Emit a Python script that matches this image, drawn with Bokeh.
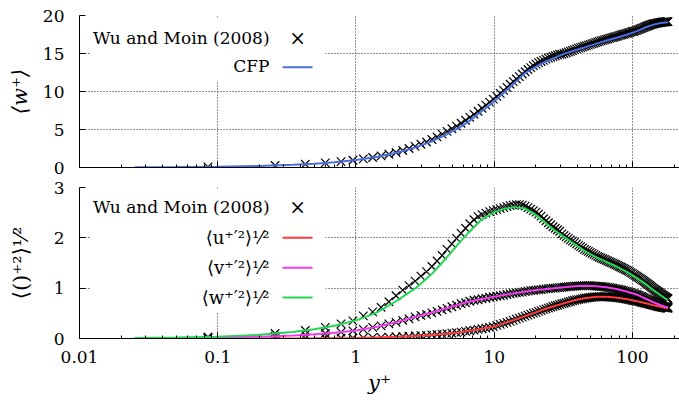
from bokeh.plotting import figure
from bokeh.layouts import column
from bokeh.models import FixedTicker, CustomJSTickFormatter, Label, BoxAnnotation, Range1d
from bokeh.embed import file_html
from bokeh.resources import INLINE

FONT = "DejaVu Serif"

# ---------------- data: Wu and Moin (2008) DNS points ----------------
dns_y = [0.085, 0.26, 0.43, 0.60, 0.78, 0.95,
         1.13, 1.32, 1.52, 1.73, 1.95, 2.18, 2.42, 2.68, 2.95, 3.24, 3.54, 3.86, 4.20, 4.56, 4.94, 5.34, 5.76,
         6.20, 6.66, 7.14, 7.64, 8.16, 8.70, 9.26, 9.84,
         10.44, 11.06, 11.70, 12.36, 13.04, 13.74, 14.46, 15.20, 15.96, 16.74, 17.54, 18.36, 19.20, 20.06,
         20.94, 21.84, 22.76, 23.70, 24.66, 25.64, 26.64, 27.66, 28.70, 29.76,
         30.86, 32.00, 33.16, 34.36, 35.58, 36.84, 38.12, 39.44, 40.78, 42.16, 43.56, 45.00, 46.46, 47.96,
         49.48, 51.04, 52.62, 54.24, 55.88, 57.56, 59.26, 61.00, 62.76, 64.56, 66.38, 68.24, 70.12, 72.04,
         73.98, 75.96, 77.96, 80.00, 82.06, 84.16, 86.28, 88.44, 90.62, 92.84, 95.08, 97.36, 99.66,
         102.0, 104.4, 106.8, 109.2, 111.6, 114.0, 116.4, 118.8, 121.2, 123.6, 126.0, 128.4, 130.8, 133.2,
         135.6, 138.0, 140.4, 142.8, 145.2, 147.6, 150.0, 152.4, 154.8, 157.2, 159.6, 162.0, 164.4, 166.8,
         169.2, 171.6, 174.0, 176.4, 178.8, 181.0]

dns_w_mean = [0.085, 0.26, 0.43, 0.60, 0.78, 0.95,
              1.13, 1.32, 1.52, 1.74, 1.97, 2.24, 2.50, 2.78, 3.06, 3.36, 3.68, 4.02, 4.40, 4.75, 5.10, 5.45,
              5.82, 6.22, 6.60, 7.00, 7.40, 7.80, 8.20, 8.60, 9.00,
              9.35, 9.75, 10.15, 10.55, 10.95, 11.30, 11.65, 11.95, 12.30, 12.60, 12.90, 13.15, 13.40, 13.60,
              13.80, 13.95, 14.10, 14.25, 14.40, 14.50, 14.60, 14.70, 14.80, 14.90,
              14.90, 15.00, 15.10, 15.20, 15.30, 15.40, 15.50, 15.60, 15.70, 15.78, 15.86, 15.95, 16.03, 16.11,
              16.19, 16.27, 16.35, 16.43, 16.51, 16.59, 16.67, 16.73, 16.79, 16.85, 16.91, 16.98, 17.05, 17.11,
              17.17, 17.23, 17.29, 17.35, 17.41, 17.47, 17.53, 17.59, 17.65, 17.70, 17.75, 17.82, 17.89,
              17.90, 17.97, 18.04, 18.10, 18.17, 18.24, 18.30, 18.37, 18.43, 18.50, 18.56, 18.62, 18.68, 18.74,
              18.80, 18.84, 18.88, 18.91, 18.94, 18.97, 19.00, 19.02, 19.04, 19.06, 19.08, 19.10, 19.12, 19.14,
              19.15, 19.16, 19.17, 19.18, 19.19, 19.20]

dns_u_rms = [0.0, 0.001, 0.003, 0.005, 0.008, 0.011,
             0.014, 0.018, 0.023, 0.028, 0.034, 0.039, 0.044, 0.050, 0.056, 0.063, 0.071, 0.079, 0.088, 0.097,
             0.106, 0.116, 0.128, 0.141, 0.154, 0.167, 0.180, 0.194, 0.207, 0.221, 0.236,
             0.26, 0.28, 0.30, 0.32, 0.34, 0.36, 0.385, 0.405, 0.425, 0.445, 0.465, 0.485, 0.505, 0.52,
             0.54, 0.555, 0.575, 0.59, 0.605, 0.62, 0.635, 0.65, 0.66, 0.675,
             0.69, 0.70, 0.71, 0.725, 0.735, 0.75, 0.76, 0.767, 0.774, 0.782, 0.79, 0.80, 0.805, 0.81,
             0.815, 0.82, 0.825, 0.828, 0.83, 0.83, 0.83, 0.83, 0.83, 0.83, 0.828, 0.825, 0.822, 0.819,
             0.816, 0.813, 0.81, 0.806, 0.802, 0.797, 0.793, 0.789, 0.785, 0.778, 0.772, 0.766, 0.76,
             0.755, 0.749, 0.743, 0.737, 0.731, 0.726, 0.72, 0.715, 0.709, 0.703, 0.698, 0.692, 0.687, 0.681,
             0.676, 0.67, 0.665, 0.659, 0.654, 0.649, 0.644, 0.639, 0.635, 0.63, 0.627, 0.623, 0.62, 0.617,
             0.614, 0.611, 0.608, 0.605, 0.602, 0.60]

dns_v_rms = [0.015, 0.046, 0.073, 0.10, 0.128, 0.152,
             0.18, 0.22, 0.25, 0.29, 0.32, 0.36, 0.39, 0.43, 0.46, 0.48, 0.51, 0.54, 0.57, 0.60,
             0.63, 0.66, 0.69, 0.71, 0.74, 0.76, 0.77, 0.79, 0.80, 0.82, 0.83,
             0.84, 0.85, 0.86, 0.875, 0.885, 0.895, 0.905, 0.915, 0.92, 0.93, 0.94, 0.95, 0.955, 0.96,
             0.965, 0.97, 0.98, 0.985, 0.99, 0.995, 1.0, 1.0, 1.01, 1.01,
             1.015, 1.02, 1.025, 1.03, 1.033, 1.037, 1.04, 1.042, 1.045, 1.047, 1.049, 1.05, 1.05, 1.05,
             1.048, 1.046, 1.044, 1.042, 1.04, 1.036, 1.033, 1.03, 1.025, 1.02, 1.016, 1.01, 1.005, 0.998,
             0.992, 0.986, 0.98, 0.973, 0.966, 0.958, 0.95, 0.942, 0.935, 0.927, 0.917, 0.907, 0.897,
             0.892, 0.883, 0.874, 0.865, 0.853, 0.842, 0.83, 0.819, 0.807, 0.796, 0.786, 0.776, 0.766, 0.756,
             0.746, 0.736, 0.726, 0.717, 0.708, 0.70, 0.692, 0.684, 0.676, 0.668, 0.661, 0.655, 0.648, 0.642,
             0.637, 0.632, 0.628, 0.625, 0.622, 0.62]

dns_w_rms = [0.03, 0.10, 0.16, 0.22, 0.29, 0.35,
             0.45, 0.53, 0.62, 0.73, 0.85, 0.96, 1.05, 1.14, 1.24, 1.33, 1.43, 1.54, 1.65, 1.77,
             1.88, 1.99, 2.09, 2.19, 2.28, 2.36, 2.42, 2.46, 2.49, 2.52, 2.54,
             2.56, 2.58, 2.60, 2.62, 2.64, 2.65, 2.66, 2.66, 2.65, 2.63, 2.60, 2.57, 2.54, 2.51,
             2.47, 2.43, 2.38, 2.34, 2.30, 2.26, 2.22, 2.19, 2.16, 2.13,
             2.08, 2.05, 2.02, 1.99, 1.96, 1.935, 1.91, 1.88, 1.85, 1.825, 1.80, 1.77, 1.75, 1.73,
             1.71, 1.69, 1.67, 1.65, 1.63, 1.615, 1.60, 1.585, 1.57, 1.555, 1.54, 1.525, 1.51, 1.495,
             1.48, 1.465, 1.45, 1.435, 1.42, 1.405, 1.39, 1.375, 1.36, 1.345, 1.33, 1.31, 1.295,
             1.275, 1.257, 1.24, 1.222, 1.205, 1.188, 1.17, 1.154, 1.137, 1.12, 1.103, 1.086, 1.07, 1.053,
             1.035, 1.018, 1.001, 0.985, 0.972, 0.958, 0.945, 0.932, 0.919, 0.906, 0.892, 0.88, 0.868, 0.856,
             0.844, 0.832, 0.82, 0.81, 0.80, 0.79]

# ---------------- data: CFP curves ----------------
cfp_y = [0.025, 0.05, 0.1, 0.2, 0.35, 0.5, 0.7, 1.0, 1.4, 2.0, 2.7, 3.5, 4.5, 5.5, 6.5, 8.0, 10.0, 12.0,
         14.0, 16.5, 19.5, 23.0, 27.0, 32.0, 38.0, 45.0, 55.0, 65.0, 78.0, 92.0, 108.0, 125.0, 142.0,
         160.0, 172.0, 181.0]
cfp_w_mean = [0.025, 0.05, 0.1, 0.2, 0.35, 0.5, 0.7, 1.0, 1.39, 1.98, 2.65, 3.41, 4.33, 5.18, 6.0, 7.3, 8.7,
              10.0, 11.1, 12.35, 13.15, 13.85, 14.4, 14.95, 15.4, 15.8, 16.3, 16.7, 17.1, 17.5, 17.95, 18.45,
              18.8, 19.0, 19.07, 19.1]
cfp_u_rms = [0.0, 0.0, 0.0005, 0.001, 0.002, 0.004, 0.007, 0.012, 0.02, 0.035, 0.05, 0.07, 0.095, 0.12,
             0.15, 0.19, 0.24, 0.31, 0.37, 0.44, 0.51, 0.58, 0.64, 0.7, 0.76, 0.8, 0.83, 0.83, 0.81, 0.78,
             0.74, 0.7, 0.66, 0.63, 0.61, 0.60]
cfp_v_rms = [0.005, 0.009, 0.018, 0.036, 0.06, 0.085, 0.115, 0.16, 0.23, 0.33, 0.43, 0.51, 0.6, 0.67,
             0.73, 0.78, 0.83, 0.87, 0.9, 0.93, 0.96, 0.98, 1.0, 1.02, 1.04, 1.05, 1.04, 1.02, 0.98, 0.93,
             0.87, 0.79, 0.72, 0.66, 0.63, 0.62]
cfp_w_rms = [0.009, 0.018, 0.037, 0.074, 0.13, 0.185, 0.255, 0.36, 0.51, 0.76, 1.0, 1.27, 1.6, 1.88,
             2.1, 2.35, 2.51, 2.58, 2.61, 2.59, 2.48, 2.32, 2.16, 2.02, 1.88, 1.74, 1.61, 1.52, 1.42, 1.32,
             1.2, 1.08, 0.96, 0.86, 0.8, 0.76]

x_ticks = [0.01, 0.1, 1, 10, 100]
top_y_ticks = [0, 5, 10, 15, 20]
bot_y_ticks = [0, 1, 2, 3]

top_legend = ["Wu and Moin (2008)", "CFP"]
bot_legend = ["Wu and Moin (2008)", "⟨u⁺′²⟩¹⁄²", "⟨v⁺′²⟩¹⁄²", "⟨w⁺′²⟩¹⁄²"]

BLUE = "#4a6fe3"
RED = "#ff3b3b"
MAGENTA = "#f03cf0"
GREEN = "#22d855"

X_END = 219
x_minor = [m * 10.0 ** e for e in range(-2, 3) for m in range(2, 10)]

MARK_SIZE = 12
MARK_W = 1.2
TICK_FS = "17px"
LEG_FS = "17px"
AX_FS = "21px"


def make_fig(height, y_end, yticks, top, bottom):
    p = figure(width=679, height=height, x_axis_type="log",
               x_range=Range1d(0.01, X_END), y_range=Range1d(0, y_end),
               output_backend="svg", toolbar_location=None,
               min_border_left=79, min_border_right=0,
               min_border_top=top, min_border_bottom=bottom)
    p.outline_line_color = None
    p.xaxis.ticker = FixedTicker(ticks=x_ticks, minor_ticks=x_minor)
    p.yaxis.ticker = FixedTicker(ticks=yticks)
    for ax in (p.xaxis, p.yaxis):
        ax.axis_line_color = "black"
        ax.axis_line_width = 1
        ax.major_tick_in = 6
        ax.major_tick_out = 0
        ax.minor_tick_in = 3
        ax.minor_tick_out = 0
        ax.major_tick_line_color = "black"
        ax.minor_tick_line_color = "black"
        ax.major_label_text_font = FONT
        ax.major_label_text_font_size = TICK_FS
        ax.major_label_text_color = "black"
        ax.axis_label_text_font = FONT
        ax.axis_label_text_font_size = AX_FS
        ax.axis_label_text_color = "black"
    p.yaxis.minor_tick_line_color = None
    p.yaxis.major_label_standoff = 15
    for g in (p.xgrid, p.ygrid):
        g.grid_line_color = "#222222"
        g.grid_line_dash = "1 2"
        g.grid_line_width = 1
    return p


def legend_text(p, x, y, text, size=LEG_FS, align="right"):
    p.add_layout(Label(x=x, y=y, text=text, text_align=align, text_baseline="middle",
                       text_font=FONT, text_font_size=size, text_color="black"))


# ---------------- top panel ----------------
p1 = make_fig(177, 20, top_y_ticks, 15, 10)
p1.xaxis.formatter = CustomJSTickFormatter(code="return '';")
p1.xaxis.major_label_text_font_size = "0px"
p1.xaxis.major_label_standoff = 0
p1.yaxis.axis_label = "⟨w⁺⟩"
p1.yaxis.axis_label_standoff = 8
p1.yaxis.axis_label_text_font_style = "italic"

p1.add_layout(BoxAnnotation(left=0.0120, right=0.6026, bottom=11.32, top=19.74,
                            fill_color="white", fill_alpha=1, line_color=None, level="underlay"))

p1.scatter(dns_y, dns_w_mean, marker="x", size=MARK_SIZE, line_color="black", line_width=MARK_W)
p1.line(cfp_y, cfp_w_mean, line_color=BLUE, line_width=2)

legend_text(p1, 0.237, 17.1, top_legend[0])
legend_text(p1, 0.378, 17.1, "×", size="20px", align="center")
legend_text(p1, 0.237, 13.36, top_legend[1])
p1.add_layout(BoxAnnotation(left=0.2944, right=0.4853, bottom=13.07, top=13.33,
                            fill_color=BLUE, fill_alpha=1, line_color=None, level="annotation"))

# ---------------- bottom panel ----------------
p2 = make_fig(228, 3, bot_y_ticks, 10, 67)
p2.xaxis.formatter = CustomJSTickFormatter(code="return String(tick);")
p2.xaxis.major_label_standoff = 12
p2.xaxis.axis_label = "y⁺"
p2.xaxis.axis_label_standoff = 5
p2.xaxis.axis_label_text_font_style = "italic"
p2.yaxis.axis_label = "⟨()⁺²⟩¹⁄²"
p2.yaxis.axis_label_standoff = 18
p2.yaxis.axis_label_text_font_style = "normal"

p2.add_layout(BoxAnnotation(left=0.0120, right=0.6026, bottom=0.517, top=2.96,
                            fill_color="white", fill_alpha=1, line_color=None, level="underlay"))

for vals in (dns_u_rms, dns_v_rms, dns_w_rms):
    p2.scatter(dns_y, vals, marker="x", size=MARK_SIZE, line_color="black", line_width=MARK_W)
p2.line(cfp_y, cfp_u_rms, line_color=RED, line_width=2)
p2.line(cfp_y, cfp_v_rms, line_color=MAGENTA, line_width=2)
p2.line(cfp_y, cfp_w_rms, line_color=GREEN, line_width=2)

rows_y = [2.603, 2.0, 1.405, 0.815]
legend_text(p2, 0.237, rows_y[0], bot_legend[0])
legend_text(p2, 0.378, rows_y[0], "×", size="20px", align="center")
for lab, ry, col in zip(bot_legend[1:], rows_y[1:], (RED, MAGENTA, GREEN)):
    legend_text(p2, 0.237, ry, lab, size="18px")
    p2.add_layout(BoxAnnotation(left=0.2944, right=0.4853, bottom=ry - 0.02, top=ry + 0.02,
                                fill_color=col, fill_alpha=1, line_color=None, level="annotation"))

layout = column(p1, p2, spacing=0)
open("out.html", "w").write(file_html(layout, INLINE))
